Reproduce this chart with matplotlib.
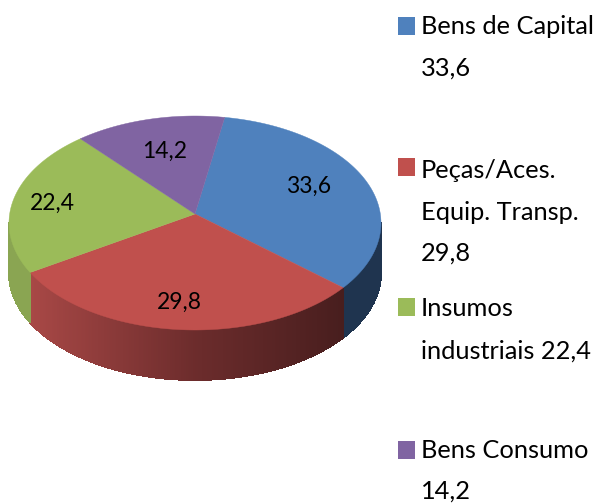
import numpy as np
import matplotlib
matplotlib.use('Agg')
import matplotlib.pyplot as plt
from matplotlib.patches import Rectangle

plt.rcParams['font.family'] = ['Lato', 'DejaVu Sans']

categorias = ['Bens de Capital', 'Peças/Aces. Equip. Transp.', 'Insumos industriais', 'Bens Consumo']
valores = [33.6, 29.8, 22.4, 14.2]
rotulos = ['33,6', '29,8', '22,4', '14,2']
legenda = ['Bens de Capital\n33,6', 'Peças/Aces.\nEquip. Transp.\n29,8', 'Insumos\nindustriais 22,4', 'Bens Consumo\n14,2']
cores = ['#4f81bd', '#c0504d', '#9bbb59', '#8064a2']

# geometria da pizza, em pixels da imagem
cx, cy = 195, 223
rx, ry = 186, 107
k = 0.084  # perspectiva: o centro da pizza fica acima do centro da elipse
prof = 50
inicio = 10

fig = plt.figure(figsize=(5.98, 5.04), dpi=100)
ax = fig.add_axes([0, 0, 1, 1])
ax.set_xlim(0, 598)
ax.set_ylim(504, 0)
ax.axis('off')


def ponto(ang):
    # angulo em graus, a partir do topo, sentido horario
    a = np.radians(ang)
    u, v = np.sin(a), np.cos(a)
    d = 1 + k * v
    return cx + rx * u * np.sqrt(1 - k ** 2) / d, cy - ry * (v + k) / d


# limites de cada fatia
limites = inicio + np.cumsum([0] + valores) / sum(valores) * 360
frente = np.degrees(np.arccos(-k))


def cor_lateral(i, x):
    if i == 0:
        return '#1f344f'
    if i == 2:
        return '#8aa552'
    r = np.interp(x, [30, 195, 342], [168, 108, 72])
    g = np.interp(x, [30, 195, 342], [72, 44, 30])
    b = np.interp(x, [30, 195, 342], [70, 44, 30])
    return (r / 255, g / 255, b / 255)


# parede lateral, so a parte visivel da frente
for i in range(len(valores)):
    a0 = max(limites[i], frente)
    a1 = min(limites[i + 1], 360 - frente)
    if a1 <= a0:
        continue
    angs = np.linspace(a0, a1, int((a1 - a0) * 2) + 2)
    for a, b in zip(angs[:-1], angs[1:]):
        xa, ya = ponto(a)
        xb, yb = ponto(b)
        c = cor_lateral(i, (xa + xb) / 2)
        ax.fill([xa, xb, xb, xa], [ya, yb, yb + prof, ya + prof], color=c, lw=0.6, antialiased=False)

# face de cima
apice = (cx, cy - ry * k)
for i in range(len(valores)):
    angs = np.linspace(limites[i], limites[i + 1], 200)
    xs, ys = ponto(angs)
    ax.fill(np.r_[apice[0], xs], np.r_[apice[1], ys], color=cores[i], lw=0.3)

# rotulos de dados
pos_rotulos = [(309, 186), (179, 302), (52, 203), (165, 151)]
for txt, (x, y) in zip(rotulos, pos_rotulos):
    ax.text(x, y, txt, fontsize=16.5, ha='center', va='center', color='black')

# legenda
pos_legenda = [(27, 68), (170, 212, 253), (309, 351), (450, 491)]
pos_quadro = [17, 158, 298, 441]
for i, txt in enumerate(legenda):
    ax.add_patch(Rectangle((398, pos_quadro[i]), 17, 18, facecolor=cores[i], edgecolor='none'))
    for linha, y in zip(txt.split('\n'), pos_legenda[i]):
        ax.text(421, y, linha, fontsize=18.3, ha='left', va='center', color='black')

fig.savefig('out.png', dpi=100)
